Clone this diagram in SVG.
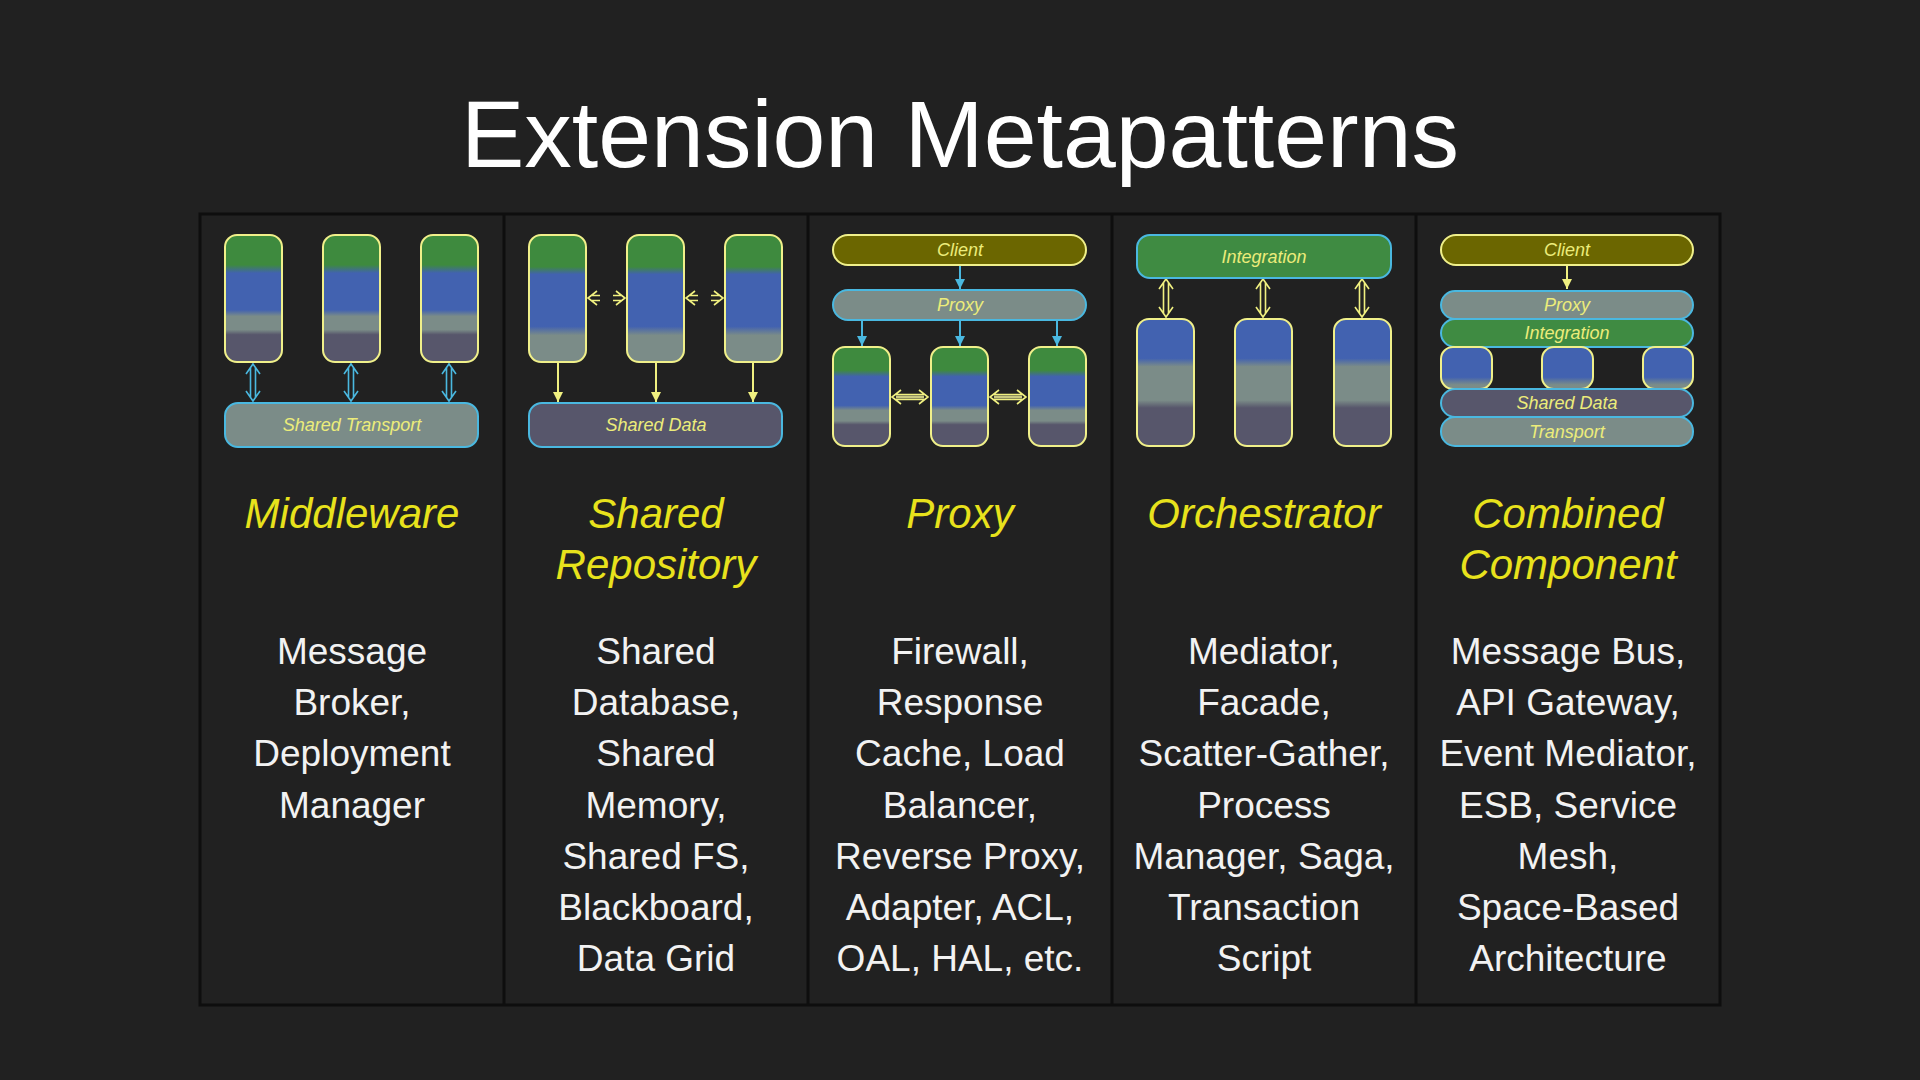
<svg xmlns="http://www.w3.org/2000/svg" width="1920" height="1080" viewBox="0 0 1920 1080">
<defs>
<linearGradient id="gA" x1="0" y1="0" x2="0" y2="1">
<stop offset="0" stop-color="#3e8a3e"/><stop offset="0.235" stop-color="#3e8a3e"/>
<stop offset="0.30" stop-color="#4262b0"/><stop offset="0.59" stop-color="#4262b0"/>
<stop offset="0.64" stop-color="#7b8c88"/><stop offset="0.746" stop-color="#7b8c88"/>
<stop offset="0.785" stop-color="#57566b"/><stop offset="1" stop-color="#57566b"/>
</linearGradient>
<linearGradient id="gB" x1="0" y1="0" x2="0" y2="1">
<stop offset="0" stop-color="#3e8a3e"/><stop offset="0.25" stop-color="#3e8a3e"/>
<stop offset="0.31" stop-color="#4262b0"/><stop offset="0.72" stop-color="#4262b0"/>
<stop offset="0.79" stop-color="#7b8c88"/><stop offset="1" stop-color="#7b8c88"/>
</linearGradient>
<linearGradient id="gC" x1="0" y1="0" x2="0" y2="1">
<stop offset="0" stop-color="#4262b0"/><stop offset="0.31" stop-color="#4262b0"/>
<stop offset="0.375" stop-color="#7b8c88"/><stop offset="0.64" stop-color="#7b8c88"/>
<stop offset="0.70" stop-color="#57566b"/><stop offset="1" stop-color="#57566b"/>
</linearGradient>
<linearGradient id="gD" x1="0" y1="0" x2="0" y2="1">
<stop offset="0" stop-color="#4262b0"/><stop offset="0.72" stop-color="#4262b0"/>
<stop offset="0.9" stop-color="#7b8c88"/><stop offset="1" stop-color="#7b8c88"/>
</linearGradient>
<marker id="mBlue" viewBox="0 0 10 10" refX="10" refY="5" markerWidth="10" markerHeight="10" markerUnits="userSpaceOnUse" orient="auto">
<path d="M0,0 L10,5 L0,10 Z" fill="#4ab8e0"/>
</marker>
<marker id="mYel" viewBox="0 0 10 10" refX="10" refY="5" markerWidth="10" markerHeight="10" markerUnits="userSpaceOnUse" orient="auto">
<path d="M0,0 L10,5 L0,10 Z" fill="#f0f080"/>
</marker>
<style>
.bg{fill:#212121}
.grid{fill:none;stroke:#0e0e0e;stroke-width:3}
.title{font-family:"Liberation Sans",Arial,sans-serif;font-size:95px;fill:#ffffff;text-anchor:middle}
.head{font-family:"Liberation Sans",Arial,sans-serif;font-size:42px;font-style:italic;fill:#e8e21c;text-anchor:middle}
.body{font-family:"Liberation Sans",Arial,sans-serif;font-size:37px;fill:#f2f2f2;text-anchor:middle}
.lbl{font-family:"Liberation Sans",Arial,sans-serif;font-size:18px;font-style:italic;fill:#ecec7a;text-anchor:middle}
.box{stroke:#f0f08a;stroke-width:2}
.bar{stroke:#4ab8e0;stroke-width:2}
.ybar{stroke:#f0f08a;stroke-width:2;fill:#6b6600}
.lnkB{fill:none;stroke:#4ab8e0;stroke-width:1.6}
.lnkY{fill:none;stroke:#f0f080;stroke-width:1.6}
.arB{fill:none;stroke:#4ab8e0;stroke-width:2}
.arY{fill:none;stroke:#f0f080;stroke-width:2}
</style>
</defs>
<rect class="bg" x="0" y="0" width="1920" height="1080"/>
<text class="title" x="960" y="167">Extension Metapatterns</text>

<g id="table">
<rect class="grid" x="200" y="214" width="1520" height="791"/>
<path class="grid" d="M504,214 V1005 M808,214 V1005 M1112,214 V1005 M1416,214 V1005"/>
</g>

<g id="connectors">
<!-- Middleware vertical links -->
<path class="lnkB" d="M246,374 L253,364 L260,374 M246,391 L253,401 L260,391 M250.5,367 V398 M255.5,367 V398"/>
<path class="lnkB" d="M344,374 L351,364 L358,374 M344,391 L351,401 L358,391 M348.5,367 V398 M353.5,367 V398"/>
<path class="lnkB" d="M442,374 L449,364 L456,374 M442,391 L449,401 L456,391 M446.5,367 V398 M451.5,367 V398"/>
<!-- Shared Repository horizontal dashed links -->
<path class="lnkY" d="M597,291 L588,298 L597,305 M592,295.5 H600 M592,300.5 H600 M616,291 L625,298 L616,305 M621,295.5 H613 M621,300.5 H613"/>
<path class="lnkY" d="M695,291 L686,298 L695,305 M690,295.5 H698 M690,300.5 H698 M714,291 L723,298 L714,305 M719,295.5 H711 M719,300.5 H711"/>
<!-- Shared Repository down arrows -->
<line class="arY" x1="558" y1="362" x2="558" y2="402" marker-end="url(#mYel)"/>
<line class="arY" x1="656" y1="362" x2="656" y2="402" marker-end="url(#mYel)"/>
<line class="arY" x1="753" y1="362" x2="753" y2="402" marker-end="url(#mYel)"/>
<!-- Proxy arrows -->
<line class="arB" x1="960" y1="266" x2="960" y2="289" marker-end="url(#mBlue)"/>
<line class="arB" x1="862" y1="321" x2="862" y2="346" marker-end="url(#mBlue)"/>
<line class="arB" x1="960" y1="321" x2="960" y2="346" marker-end="url(#mBlue)"/>
<line class="arB" x1="1057" y1="321" x2="1057" y2="346" marker-end="url(#mBlue)"/>
<!-- Proxy horizontal solid links -->
<path class="lnkY" d="M901,390 L892,397 L901,404 M919,390 L928,397 L919,404 M895,394.5 H925 M895,399.5 H925"/>
<path class="lnkY" d="M999,390 L990,397 L999,404 M1017,390 L1026,397 L1017,404 M993,394.5 H1023 M993,399.5 H1023"/>
<path d="M896,395.5 H924 V398.5 H896 Z M994,395.5 H1022 V398.5 H994 Z" fill="#c8c880"/>
<!-- Orchestrator vertical links -->
<path class="lnkY" d="M1159,289 L1166,279 L1173,289 M1159,307 L1166,317 L1173,307 M1163.5,282 V314 M1168.5,282 V314"/>
<path class="lnkY" d="M1256,289 L1263,279 L1270,289 M1256,307 L1263,317 L1270,307 M1260.5,282 V314 M1265.5,282 V314"/>
<path class="lnkY" d="M1355,289 L1362,279 L1369,289 M1355,307 L1362,317 L1369,307 M1359.5,282 V314 M1364.5,282 V314"/>
<!-- Combined arrow -->
<line class="arY" x1="1567" y1="266" x2="1567" y2="289" marker-end="url(#mYel)"/>
</g>

<g id="middleware">
<rect class="box" x="225" y="235" width="57" height="127" rx="12" fill="url(#gA)"/>
<rect class="box" x="323" y="235" width="57" height="127" rx="12" fill="url(#gA)"/>
<rect class="box" x="421" y="235" width="57" height="127" rx="12" fill="url(#gA)"/>
<rect class="bar" x="225" y="403" width="253" height="44" rx="13" fill="#7b8c88"/>
<text class="lbl" x="352" y="431">Shared Transport</text>
<text class="head" x="352" y="528">Middleware</text>
<text class="body" x="352" y="664">Message</text>
<text class="body" x="352" y="715">Broker,</text>
<text class="body" x="352" y="766">Deployment</text>
<text class="body" x="352" y="818">Manager</text>
</g>

<g id="shared-repository">
<rect class="box" x="529" y="235" width="57" height="127" rx="12" fill="url(#gB)"/>
<rect class="box" x="627" y="235" width="57" height="127" rx="12" fill="url(#gB)"/>
<rect class="box" x="725" y="235" width="57" height="127" rx="12" fill="url(#gB)"/>
<rect class="bar" x="529" y="403" width="253" height="44" rx="13" fill="#57566b"/>
<text class="lbl" x="656" y="431">Shared Data</text>
<text class="head" x="656" y="528">Shared</text>
<text class="head" x="656" y="579">Repository</text>
<text class="body" x="656" y="664">Shared</text>
<text class="body" x="656" y="715">Database,</text>
<text class="body" x="656" y="766">Shared</text>
<text class="body" x="656" y="818">Memory,</text>
<text class="body" x="656" y="869">Shared FS,</text>
<text class="body" x="656" y="920">Blackboard,</text>
<text class="body" x="656" y="971">Data Grid</text>
</g>

<g id="proxy">
<rect class="ybar" x="833" y="235" width="253" height="30" rx="15"/>
<text class="lbl" x="960" y="256">Client</text>
<rect class="bar" x="833" y="290" width="253" height="30" rx="15" fill="#7b8c88"/>
<text class="lbl" x="960" y="311">Proxy</text>
<rect class="box" x="833" y="347" width="57" height="99" rx="12" fill="url(#gA)"/>
<rect class="box" x="931" y="347" width="57" height="99" rx="12" fill="url(#gA)"/>
<rect class="box" x="1029" y="347" width="57" height="99" rx="12" fill="url(#gA)"/>
<text class="head" x="960" y="528">Proxy</text>
<text class="body" x="960" y="664">Firewall,</text>
<text class="body" x="960" y="715">Response</text>
<text class="body" x="960" y="766">Cache, Load</text>
<text class="body" x="960" y="818">Balancer,</text>
<text class="body" x="960" y="869">Reverse Proxy,</text>
<text class="body" x="960" y="920">Adapter, ACL,</text>
<text class="body" x="960" y="971">OAL, HAL, etc.</text>
</g>

<g id="orchestrator">
<rect class="bar" x="1137" y="235" width="254" height="43" rx="13" fill="#3f8b42"/>
<text class="lbl" x="1264" y="263">Integration</text>
<rect class="box" x="1137" y="319" width="57" height="127" rx="12" fill="url(#gC)"/>
<rect class="box" x="1235" y="319" width="57" height="127" rx="12" fill="url(#gC)"/>
<rect class="box" x="1334" y="319" width="57" height="127" rx="12" fill="url(#gC)"/>
<text class="head" x="1264" y="528">Orchestrator</text>
<text class="body" x="1264" y="664">Mediator,</text>
<text class="body" x="1264" y="715">Facade,</text>
<text class="body" x="1264" y="766">Scatter-Gather,</text>
<text class="body" x="1264" y="818">Process</text>
<text class="body" x="1264" y="869">Manager, Saga,</text>
<text class="body" x="1264" y="920">Transaction</text>
<text class="body" x="1264" y="971">Script</text>
</g>

<g id="combined-component">
<rect class="ybar" x="1441" y="235" width="252" height="30" rx="15"/>
<text class="lbl" x="1567" y="256">Client</text>
<rect class="bar" x="1441" y="291" width="252" height="28" rx="14" fill="#7b8c88"/>
<text class="lbl" x="1567" y="311">Proxy</text>
<rect class="bar" x="1441" y="319" width="252" height="28" rx="14" fill="#3f8b42"/>
<text class="lbl" x="1567" y="339">Integration</text>
<rect class="box" x="1441" y="347" width="51" height="42" rx="12" fill="url(#gD)"/>
<rect class="box" x="1542" y="347" width="51" height="42" rx="12" fill="url(#gD)"/>
<rect class="box" x="1643" y="347" width="50" height="42" rx="12" fill="url(#gD)"/>
<rect class="bar" x="1441" y="389" width="252" height="28" rx="14" fill="#57566b"/>
<text class="lbl" x="1567" y="409">Shared Data</text>
<rect class="bar" x="1441" y="417" width="252" height="29" rx="14" fill="#7b8c88"/>
<text class="lbl" x="1567" y="438">Transport</text>
<text class="head" x="1568" y="528">Combined</text>
<text class="head" x="1568" y="579">Component</text>
<text class="body" x="1568" y="664">Message Bus,</text>
<text class="body" x="1568" y="715">API Gateway,</text>
<text class="body" x="1568" y="766">Event Mediator,</text>
<text class="body" x="1568" y="818">ESB, Service</text>
<text class="body" x="1568" y="869">Mesh,</text>
<text class="body" x="1568" y="920">Space-Based</text>
<text class="body" x="1568" y="971">Architecture</text>
</g>
</svg>
